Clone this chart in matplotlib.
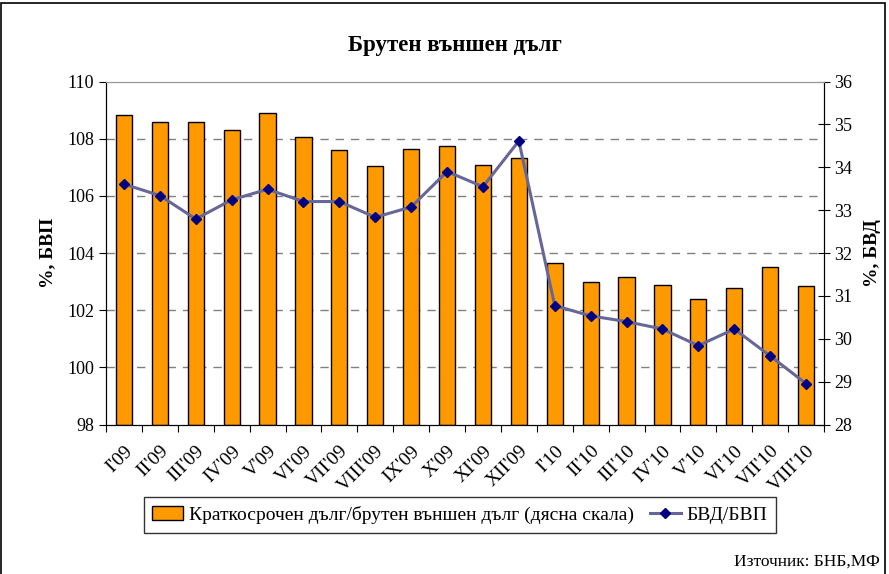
import numpy as np
import matplotlib
matplotlib.use('Agg')
import matplotlib.pyplot as plt
from matplotlib.patches import Rectangle

plt.rcParams['font.family'] = ['Liberation Serif', 'DejaVu Serif']

# Data
months = ["I'09", "II'09", "III'09", "IV'09", "V'09", "VI'09", "VII'09", "VIII'09",
          "IX'09", "X'09", "XI'09", "XII'09", "I'10", "II'10", "III'10", "IV'10",
          "V'10", "VI'10", "VII'10", "VIII'10"]
short_debt_share = [35.21, 35.05, 35.05, 34.87, 35.26, 34.71, 34.40, 34.02,
                    34.43, 34.50, 34.05, 34.22, 31.76, 31.32, 31.45, 31.25,
                    30.93, 31.19, 31.68, 31.22]
gross_debt_gdp = [106.41, 106.01, 105.19, 105.86, 106.23, 105.80, 105.80, 105.25,
                  105.61, 106.85, 106.32, 107.92, 102.16, 101.80, 101.60, 101.34,
                  100.76, 101.34, 100.40, 99.43]

BAR_COLOR = "#FF9900"
LINE_COLOR = "#666699"
MARKER_COLOR = "#000080"


def main():
    fig = plt.figure(figsize=(8.89, 5.74), dpi=100)
    ax = fig.add_axes([106 / 889, 1 - 424.5 / 574, (824 - 106) / 889, 343 / 574])
    ax2 = ax.twinx()

    x = np.arange(len(months))

    # bars on the right scale
    ax2.bar(x, np.array(short_debt_share) - 28, bottom=28, width=0.45,
            color=BAR_COLOR, edgecolor="black", linewidth=1.0, zorder=2,
            label="Краткосрочен дълг/брутен външен дълг (дясна скала)")
    ax2.set_ylim(28, 36)
    ax2.set_yticks(range(28, 37))

    # line on the left scale, drawn above the bars
    ax.set_zorder(ax2.get_zorder() + 1)
    ax.patch.set_visible(False)
    ax.plot(x, gross_debt_gdp, color=LINE_COLOR, linewidth=2.2, marker="D",
            markersize=5, markerfacecolor=MARKER_COLOR, markeredgecolor=MARKER_COLOR,
            label="БВД/БВП", zorder=3)
    ax.set_ylim(98, 110)
    ax.set_yticks(range(98, 111, 2))
    ax.set_xlim(-0.5, len(months) - 0.5)

    # dashed grid on the left ticks (behind bars)
    for v in range(100, 110, 2):
        ax2.axhline(28 + (v - 98) * 8 / 12, color="#808080", linestyle=(0, (6, 5)),
                    linewidth=1, zorder=1)

    ax.set_xticks(np.arange(-0.5, len(months), 1), minor=False)
    ax.set_xticklabels([])
    ax.set_xticks(x, minor=True)
    ax.set_xticklabels(months, minor=True, rotation=45, ha="right",
                       rotation_mode="anchor", fontsize=14)
    ax.tick_params(axis="x", which="minor", length=0, pad=13)
    ax.tick_params(axis="x", which="major", length=5, direction="out")
    ax.tick_params(axis="y", labelsize=13, length=5, direction="out")
    ax2.tick_params(axis="y", labelsize=13, length=8, direction="inout")

    for a in (ax, ax2):
        a.spines["top"].set_color("#999999")
        a.spines["left"].set_color("black")
        a.spines["right"].set_color("black")
        a.spines["bottom"].set_color("black")

    ax.set_ylabel("%, БВП", fontsize=14, fontweight="bold", labelpad=8)
    ax2.set_ylabel("%, БВД", fontsize=14, fontweight="bold", labelpad=8)

    fig.text(455 / 889, 1 - 45 / 574, "Брутен външен дълг", ha="center",
             va="center", fontsize=16.5, fontweight="bold")

    h1, l1 = ax2.get_legend_handles_labels()
    h2, l2 = ax.get_legend_handles_labels()
    leg = fig.legend(h1 + h2, l1 + l2, loc="center", ncol=2,
                     bbox_to_anchor=(460 / 889, 1 - 515 / 574), fontsize=14,
                     frameon=True, fancybox=False, edgecolor="black",
                     handlelength=1.6, handletextpad=0.3, columnspacing=0.8,
                     borderpad=0.45, borderaxespad=0.3)
    leg.get_frame().set_linewidth(1)

    fig.text(880 / 889, 1 - 562 / 574, "Източник: БНБ,МФ", ha="right",
             va="center", fontsize=12.5)

    fig.patches.append(Rectangle((0.001, -0.01), 0.994, 1.005, transform=fig.transFigure,
                                 fill=False, edgecolor="black", linewidth=1.2))

    fig.savefig("out.png", dpi=100)
    plt.close(fig)


if __name__ == "__main__":
    main()
